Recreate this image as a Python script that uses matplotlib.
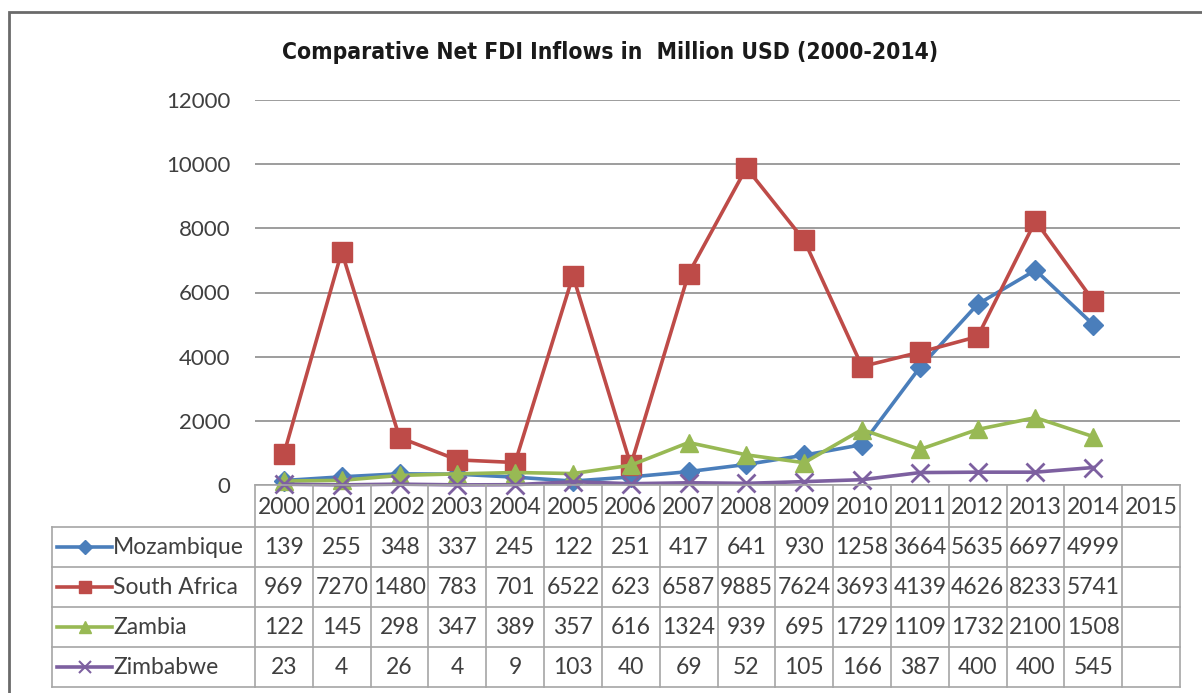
"""Net FDI inflows line chart with an Excel-style data table underneath."""
import matplotlib

matplotlib.use("Agg")
from matplotlib import pyplot as plt
from matplotlib import font_manager
from matplotlib.patches import Rectangle

years = [str(y) for y in range(2000, 2016)]
countries = ["Mozambique", "South Africa", "Zambia", "Zimbabwe"]

mozambique = [139, 255, 348, 337, 245, 122, 251, 417, 641, 930, 1258, 3664, 5635, 6697, 4999]
south_africa = [969, 7270, 1480, 783, 701, 6522, 623, 6587, 9885, 7624, 3693, 4139, 4626, 8233, 5741]
zambia = [122, 145, 298, 347, 389, 357, 616, 1324, 939, 695, 1729, 1109, 1732, 2100, 1508]
zimbabwe = [23, 4, 26, 4, 9, 103, 40, 69, 52, 105, 166, 387, 400, 400, 545]

series = [mozambique, south_africa, zambia, zimbabwe]
colors = ["#4A7EBB", "#BE4B48", "#98B954", "#7D60A0"]
markers = ["D", "s", "^", "x"]
marker_sizes = [10.5, 14, 12.5, 13]

W, H = 1202, 693
FONT = ["Lato", "DejaVu Sans"]
TEXT_COLOR = "#3f3f3f"
GRID_COLOR = "#8c8c8c"
TABLE_COLOR = "#a6a6a6"

# pixel layout of the chart
plot_left, plot_right = 255, 1180
plot_top, plot_bottom = 100, 485
table_left, table_bottom = 52, 686
header_h, row_h = 42, 40

fig = plt.figure(figsize=(W / 100, H / 100), dpi=100)
fig.patch.set_facecolor("white")


def fig_box(x0, y0, x1, y1):
    """Convert a pixel box (top-left origin) to figure fractions."""
    return [x0 / W, 1 - y1 / H, (x1 - x0) / W, (y1 - y0) / H]


# outer chart frame
fig.add_artist(
    Rectangle((9 / W, -0.05), 1.2, 1 - 12 / H + 0.05, transform=fig.transFigure,
              fill=False, edgecolor="#6a6a6a", linewidth=2)
)

ax = fig.add_axes(fig_box(plot_left, plot_top, plot_right, plot_bottom))
n_cat = len(years)
xs = list(range(len(mozambique)))

for k, values in enumerate(series):
    ax.plot(
        xs,
        values,
        color=colors[k],
        linewidth=2.6,
        marker=markers[k],
        markersize=marker_sizes[k],
        markeredgewidth=2 if markers[k] == "x" else 1,
        markeredgecolor=colors[k],
        markerfacecolor=colors[k],
        zorder=3 + k,
        clip_on=False,
    )

ax.set_xlim(-0.5, n_cat - 0.5)
ax.set_ylim(0, 12000)
ax.set_yticks(range(0, 12001, 2000))
ax.set_yticklabels([str(v) for v in range(0, 12001, 2000)], fontfamily=FONT,
                   fontsize=16, color=TEXT_COLOR)
ax.tick_params(axis="y", length=0, pad=17.5)
ax.set_xticks([])
ax.grid(axis="y", color=GRID_COLOR, linewidth=1.2)
ax.set_axisbelow(True)
for side in ["left", "right", "top", "bottom"]:
    ax.spines[side].set_visible(False)

# narrow bold face for the title
title_font = font_manager.FontProperties(
    family=["DejaVu Sans"], weight="bold", stretch="condensed", size=16.4
)
fig.text(
    610 / W, 1 - 53 / H,
    "Comparative Net FDI Inflows in  Million USD (2000-2014)",
    ha="center", va="center", fontproperties=title_font, color="#1a1a1a",
)

# data table below the plot, sharing the category positions
unit = (plot_right - plot_left) / n_cat
tax = fig.add_axes(fig_box(table_left, plot_bottom, plot_right, table_bottom))
tax.set_xlim(-0.5 - (plot_left - table_left) / unit, n_cat - 0.5)
tax.set_ylim(table_bottom - plot_bottom, 0)
tax.axis("off")

row_edges = [header_h + row_h * i for i in range(len(countries) + 1)]
x_first = -0.5
x_left = tax.get_xlim()[0]
x_right = n_cat - 0.5

# horizontal lines
tax.plot([x_first, x_right], [0, 0], color=TABLE_COLOR, linewidth=1.2, clip_on=False)
for y in row_edges:
    tax.plot([x_left, x_right], [y, y], color=TABLE_COLOR, linewidth=1.2, clip_on=False)
# vertical lines
tax.plot([x_left, x_left], [row_edges[0], row_edges[-1]], color=TABLE_COLOR,
         linewidth=1.2, clip_on=False)
for i in range(n_cat + 1):
    xv = x_first + i
    tax.plot([xv, xv], [0, row_edges[-1]], color=TABLE_COLOR, linewidth=1.2, clip_on=False)

# header years
for i, year in enumerate(years):
    tax.text(i, header_h / 2 + 1, year, ha="center", va="center", fontsize=16.5,
             family=FONT, color=TEXT_COLOR)

# legend keys and values
key_x0 = x_left + 5 / unit
key_x1 = x_left + 60 / unit
for k, name in enumerate(countries):
    yc = row_edges[k] + row_h / 2
    tax.plot([key_x0, key_x1], [yc, yc], color=colors[k], linewidth=2.6,
             clip_on=False)
    tax.plot([(key_x0 + key_x1) / 2], [yc], marker=markers[k],
             markersize=marker_sizes[k] * 0.65, color=colors[k],
             markeredgewidth=1.5 if markers[k] == "x" else 1, clip_on=False)
    tax.text(key_x1 + 1 / unit, yc + 1, name, ha="left", va="center", fontsize=16.5,
             family=FONT, color=TEXT_COLOR)
    for i, v in enumerate(series[k]):
        tax.text(i, yc + 1, str(v), ha="center", va="center", fontsize=16.5,
                 family=FONT, color=TEXT_COLOR)

fig.savefig("out.png", dpi=100)
